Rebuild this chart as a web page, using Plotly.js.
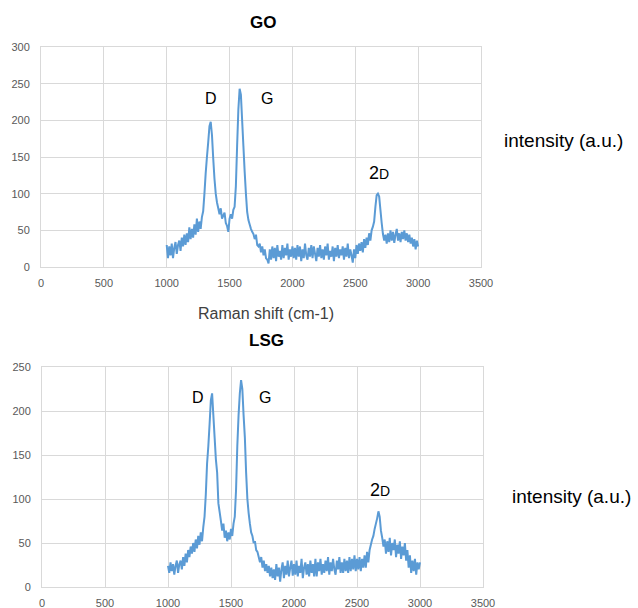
<!DOCTYPE html>
<html>
<head>
<meta charset="utf-8">
<script src="https://cdn.plot.ly/plotly-3.0.1.min.js"></script>
<style>html,body{margin:0;padding:0;background:#fff;}#chart{width:638px;height:608px;}</style>
</head>
<body>
<div id="chart"></div>
<script>
// Raman shift grid (cm-1): 1000..3000, step 10
const shiftStart = 1000;
const shiftStep = 10;

// GO intensity (a.u.)
const goIntensity = [
30,12,28,16,32,12,26,34,18,30,
36,22,40,28,44,30,46,34,54,38,
52,40,58,44,66,48,62,52,68,76,
100,128,150,170,192,198,180,148,120,100,
88,80,72,80,66,70,74,60,56,48,
66,72,66,78,82,110,165,215,243,235,
200,165,130,100,75,64,58,52,48,45,
38,44,30,28,32,20,28,16,24,12,
10,5,24,10,28,12,26,8,30,14,
22,10,30,12,26,16,32,10,24,14,
28,12,26,10,30,14,28,8,24,12,
32,16,10,26,14,30,12,28,18,8,
26,14,30,12,24,10,28,16,32,10,
22,14,28,8,26,14,30,12,24,16,
28,10,26,14,32,12,24,16,6,24,
12,30,18,32,22,34,20,38,26,40,
30,46,36,50,55,62,82,98,100,96,
78,60,45,36,44,32,46,34,50,36,
48,33,44,52,36,46,34,48,38,50,
36,46,34,44,32,40,28,38,24,36,
28];

// LSG intensity (a.u.)
const lsgIntensity = [
24,16,28,18,26,14,24,30,16,26,
30,20,34,24,38,28,42,34,46,38,
50,40,54,44,58,48,62,52,68,80,
105,140,160,185,212,220,195,170,145,130,
95,85,75,64,72,56,64,52,62,54,
66,58,72,80,110,160,195,220,235,225,
195,170,130,100,84,72,62,58,50,52,
42,40,34,28,34,22,30,18,26,16,
24,12,22,10,20,8,26,12,22,6,
20,28,10,24,14,30,12,22,30,13,
26,14,30,12,24,16,32,10,22,28,
14,26,12,30,16,26,12,32,12,28,
18,32,14,26,16,30,18,34,14,28,
18,32,20,14,30,20,34,16,28,16,
32,18,30,16,34,18,32,20,36,18,
32,20,34,18,32,22,36,22,40,28,
42,48,54,58,66,72,78,86,80,64,
56,46,54,38,52,40,56,36,50,42,
54,34,48,38,52,32,46,36,50,30,
42,22,36,16,30,18,32,14,28,20,
28];

// Axis ticks
const xTicks = [0,500,1000,1500,2000,2500,3000,3500];
const goYTicks = [0,50,100,150,200,250,300];
const lsgYTicks = [0,50,100,150,200,250];

// Peak labels
const peakLabels = ['D','G','2D'];
const goPeakPos = [[1353,230],[1800,230],[2690,128]];
const lsgPeakPos = [[1242,215],[1772,215],[2682,110]];

const shifts = goIntensity.map((_, i) => shiftStart + i * shiftStep);

const lineColor = '#5b9bd5';
const gridColor = '#d9d9d9';
const tickColor = '#595959';
const fontFam = 'Liberation Sans, Arial, sans-serif';

const traces = [
  {x: shifts, y: goIntensity, type: 'scatter', mode: 'lines', line: {color: lineColor, width: 2, simplify: false}, xaxis: 'x', yaxis: 'y', showlegend: false, hoverinfo: 'skip'},
  {x: shifts, y: lsgIntensity, type: 'scatter', mode: 'lines', line: {color: lineColor, width: 2, simplify: false}, xaxis: 'x2', yaxis: 'y2', showlegend: false, hoverinfo: 'skip'}
];

function xAxis(domain, anchor) {
  return {
    domain: domain, anchor: anchor, range: [0, 3500],
    tickvals: xTicks, ticktext: xTicks.map(String),
    showgrid: true, gridcolor: gridColor, gridwidth: 1,
    showline: true, linecolor: gridColor, linewidth: 1, mirror: true,
    zeroline: false, ticks: '', ticklabelstandoff: 6,
    tickfont: {family: fontFam, size: 11, color: tickColor}
  };
}
function yAxis(domain, anchor, ticks) {
  return {
    domain: domain, anchor: anchor, range: [0, ticks[ticks.length - 1]],
    tickvals: ticks, ticktext: ticks.map(String),
    showgrid: true, gridcolor: gridColor, gridwidth: 1,
    showline: true, linecolor: gridColor, linewidth: 1, mirror: true,
    zeroline: false, ticks: '', ticklabelstandoff: 8,
    tickfont: {family: fontFam, size: 11, color: tickColor}
  };
}

function peakAnn(pos, xref, yref) {
  return peakLabels.map((lab, i) => ({
    x: pos[i][0], y: pos[i][1], xref: xref, yref: yref,
    xanchor: 'center', yanchor: 'middle',
    text: lab === '2D' ? '<span style="font-size:18px">2</span><span style="font-size:14px">D</span>' : lab,
    showarrow: false, font: {family: fontFam, size: 16, color: '#000'}
  }));
}

function paperText(px, py, text, size, color) {
  return {x: px/638, y: 1 - py/608, xref: 'paper', yref: 'paper', xanchor: 'center', yanchor: 'middle',
    text: text, showarrow: false, font: {family: fontFam, size: size, color: color}};
}

const annotations = [
  paperText(263, 23, '<b>GO</b>', 17, '#000'),
  paperText(266, 340, '<b>LSG</b>', 17, '#000'),
  paperText(266, 313, 'Raman shift (cm-1)', 16, '#404040'),
  paperText(563, 140, 'intensity (a.u.)', 19, '#000'),
  paperText(571, 496, 'intensity (a.u.)', 19, '#000')
].concat(peakAnn(goPeakPos, 'x', 'y'), peakAnn(lsgPeakPos, 'x2', 'y2'));

const layout = {
  width: 638, height: 608,
  margin: {l: 0, r: 0, t: 0, b: 0},
  paper_bgcolor: '#fff', plot_bgcolor: '#fff',
  showlegend: false,
  xaxis: xAxis([41/638, 481/638], 'y'),
  yaxis: yAxis([1 - 267/608, 1 - 47/608], 'x', goYTicks),
  xaxis2: xAxis([42/638, 483/638], 'y2'),
  yaxis2: yAxis([1 - 587/608, 1 - 367/608], 'x2', lsgYTicks),
  annotations: annotations
};

Plotly.newPlot('chart', traces, layout, {displayModeBar: false, staticPlot: true});
</script>
</body>
</html>
